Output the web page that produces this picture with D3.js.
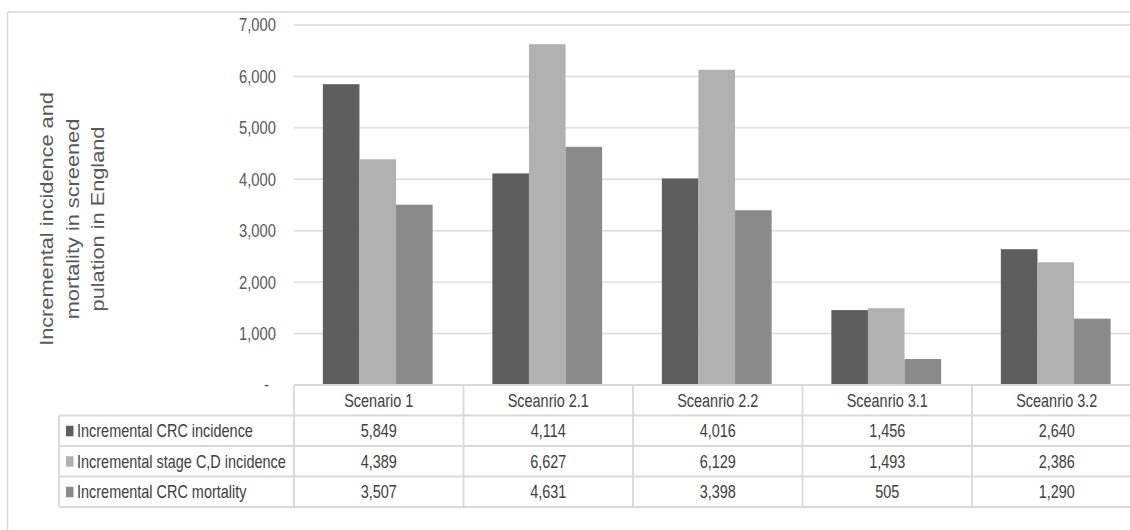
<!DOCTYPE html>
<html>
<head>
<meta charset="utf-8">
<script src="https://cdn.jsdelivr.net/npm/d3@7"></script>
<style>
  html, body { margin: 0; padding: 0; background: #fff; }
  svg { display: block; }
</style>
</head>
<body>
<svg id="chart" width="1130" height="530"></svg>
<script>
// ---- data ----
const categories = ["Scenario 1", "Sceanrio 2.1", "Sceanrio 2.2", "Sceanrio 3.1", "Sceanrio 3.2"];
const seriesNames = ["Incremental CRC incidence", "Incremental stage C,D incidence", "Incremental CRC mortality"];
const crcIncidence = [5849, 4114, 4016, 1456, 2640];
const stageCDIncidence = [4389, 6627, 6129, 1493, 2386];
const crcMortality = [3507, 4631, 3398, 505, 1290];
const yTicks = [0, 1000, 2000, 3000, 4000, 5000, 6000, 7000];
const yTitleLines = ["Incremental incidence and", "mortality in screened", "pulation in England"];

const seriesValues = [crcIncidence, stageCDIncidence, crcMortality];
const colors = ["#5e5e5e", "#b1b1b1", "#8a8a8a"];

const REG = "'Liberation Sans', Arial, sans-serif";

const svg = d3.select("#chart");

function widthAt(text, family, size) {
  const t = svg.append("text").attr("font-family", family).attr("font-size", size).text(text);
  const w = t.node().getComputedTextLength();
  t.remove();
  return w;
}
const tableSize = 17.6;
const tickSize = 18;
const sx = 176 / widthAt("Incremental CRC incidence", REG, tableSize);
const titleSize = 254 / widthAt("Incremental incidence and", REG, 100) * 100;

// horizontally condensed text helper
function htext(g, px, py, str, size, anchor, fill) {
  return g.append("text")
    .attr("transform", `translate(${px},${py}) scale(${sx},1)`)
    .attr("text-anchor", anchor)
    .attr("font-family", REG).attr("font-size", size)
    .attr("fill", fill)
    .text(str);
}

// ---- layout ----
const plotLeft = 294, band = 169.5;
const y0 = 385, yTop = 25;
const rowH = 30.5;
const legendLeft = 59;
const gridColor = "#d9d9d9";

// outer frame
svg.append("line").attr("x1", 7.5).attr("x2", 7.5).attr("y1", 12).attr("y2", 530)
  .attr("stroke", gridColor).attr("stroke-width", 1.5);
svg.append("line").attr("x1", 7.5).attr("x2", 1130).attr("y1", 12).attr("y2", 12)
  .attr("stroke", gridColor).attr("stroke-width", 1.5);

const x = d3.scaleBand().domain(categories).range([plotLeft, plotLeft + band * categories.length]).padding(0);
const y = d3.scaleLinear().domain([0, 7000]).range([y0, yTop]);

const groupW = 36.6 * seriesNames.length;
const xs = d3.scaleBand().domain(seriesNames).range([(band - groupW) / 2 - 1, (band + groupW) / 2 - 1]).padding(0);

// gridlines
svg.append("g").selectAll("line").data(yTicks.filter(d => d > 0)).join("line")
  .attr("x1", plotLeft).attr("x2", plotLeft + band * categories.length)
  .attr("y1", d => y(d)).attr("y2", d => y(d))
  .attr("stroke", gridColor).attr("stroke-width", 1.4);

// y axis tick labels
const fmt = d3.format(",");
const tickG = svg.append("g");
yTicks.forEach(d => {
  htext(tickG, d === 0 ? 269 : 276, y(d) + tickSize * 0.36, d === 0 ? "-" : fmt(d), tickSize, "end", "#595959");
});

// y title
const titleBase = [53, 78.5, 104];
svg.append("g").selectAll("text").data(yTitleLines).join("text")
  .attr("transform", (d, i) => `translate(${titleBase[i]},219) scale(0.82,1) rotate(-90)`)
  .attr("text-anchor", "middle")
  .attr("font-family", REG).attr("font-size", titleSize)
  .attr("fill", "#595959")
  .text(d => d);

// bars
const barG = svg.append("g");
seriesNames.forEach((s, si) => {
  barG.append("g").selectAll("rect").data(seriesValues[si]).join("rect")
    .attr("x", (d, i) => x(categories[i]) + xs(s))
    .attr("width", xs.bandwidth())
    .attr("y", d => y(d))
    .attr("height", d => y0 - y(d))
    .attr("fill", colors[si]);
});

// table
const tg = svg.append("g");
const right = plotLeft + band * categories.length;
const lineStyle = sel => sel.attr("stroke", gridColor).attr("stroke-width", 1.8);
tg.append("line").attr("x1", plotLeft).attr("x2", right).attr("y1", y0).attr("y2", y0).call(lineStyle);
for (let r = 1; r <= 4; r++) {
  tg.append("line").attr("x1", legendLeft).attr("x2", right)
    .attr("y1", y0 + r * rowH).attr("y2", y0 + r * rowH).call(lineStyle);
}
tg.append("line").attr("x1", legendLeft).attr("x2", legendLeft)
  .attr("y1", y0 + rowH).attr("y2", y0 + 4 * rowH).call(lineStyle);
categories.forEach(c => {
  tg.append("line").attr("x1", x(c)).attr("x2", x(c)).attr("y1", y0).attr("y2", y0 + 4 * rowH).call(lineStyle);
});

// header labels
categories.forEach(c => {
  htext(tg, x(c) + band / 2, y0 + rowH / 2 + tableSize * 0.36, c, tableSize, "middle", "#404040");
});

// rows
seriesNames.forEach((s, si) => {
  const cy = y0 + (si + 1.5) * rowH;
  tg.append("rect").attr("x", 66).attr("y", cy - 5).attr("width", 7.5).attr("height", 10.5)
    .attr("fill", colors[si]);
  htext(tg, 77, cy + tableSize * 0.36, s, tableSize, "start", "#404040");
  seriesValues[si].forEach((d, i) => {
    htext(tg, x(categories[i]) + band / 2, cy + tableSize * 0.36, fmt(d), tableSize, "middle", "#404040");
  });
});
</script>
</body>
</html>
